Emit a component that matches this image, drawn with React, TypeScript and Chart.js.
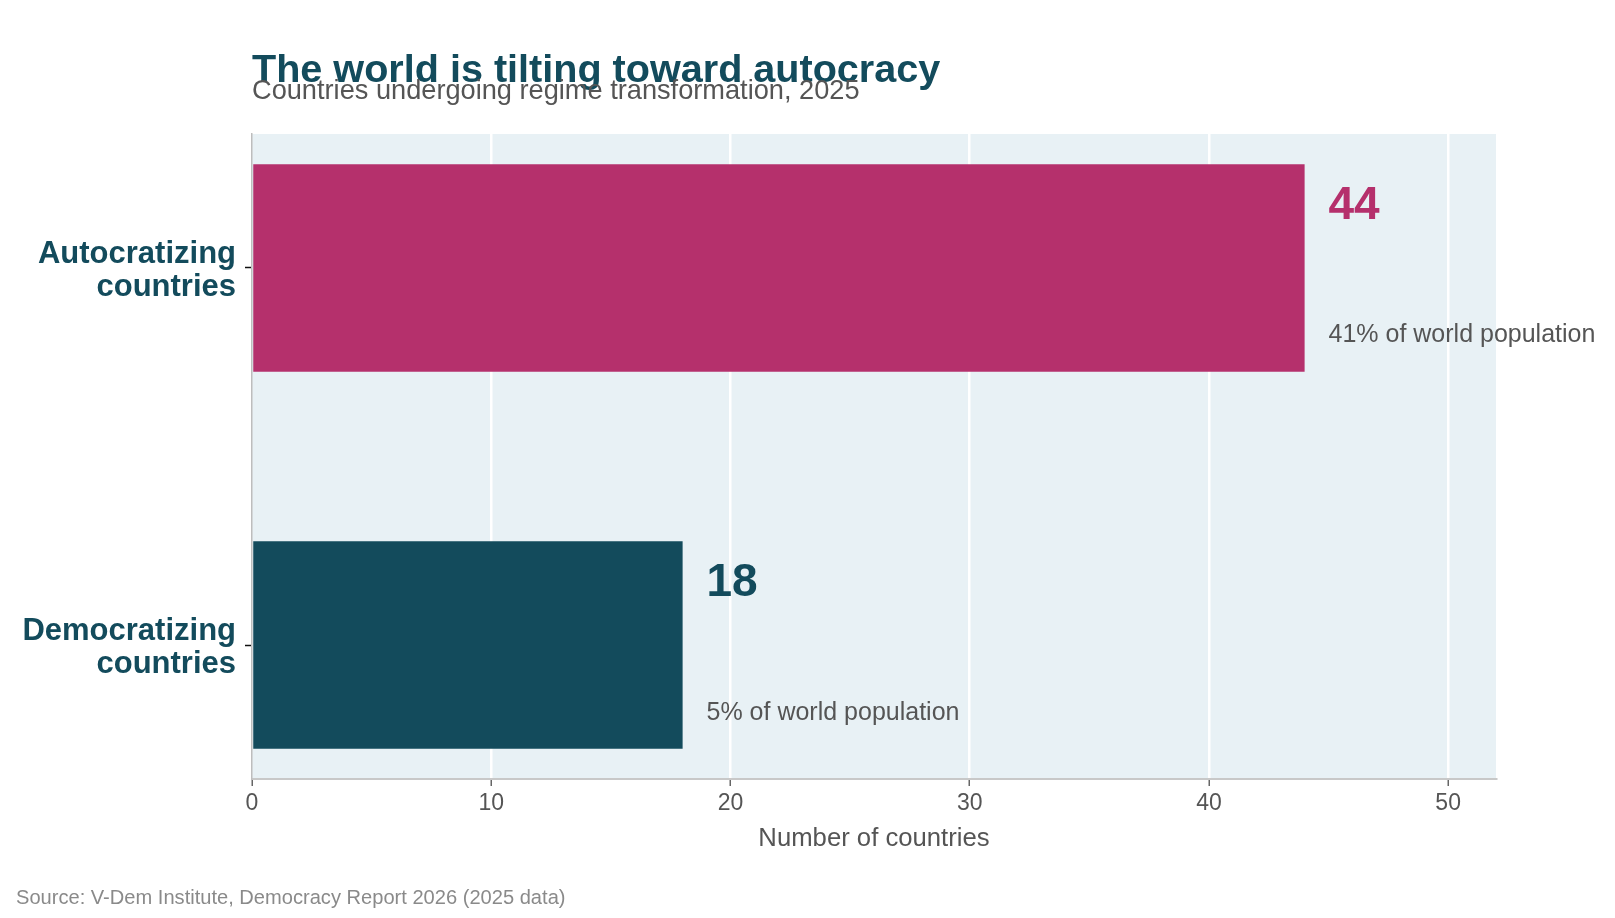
import React, { useEffect, useRef } from 'react';
import { Chart, registerables } from 'chart.js';

Chart.register(...registerables);

// ---- Data ----
const categories: string[][] = [
  ['Autocratizing', 'countries'],
  ['Democratizing', 'countries'],
];
const counts: number[] = [44, 18];
const populationShares: string[] = ['41% of world population', '5% of world population'];
const barColors: string[] = ['#b5306c', '#134b5c'];
const xTickValues: number[] = [0, 10, 20, 30, 40, 50];
const titleText = 'The world is tilting toward autocracy';
const subtitleText = 'Countries undergoing regime transformation, 2025';
const sourceText = 'Source: V-Dem Institute, Democracy Report 2026 (2025 data)';
const xAxisTitle = 'Number of countries';

const FONT = '"Liberation Sans", Arial, Helvetica, sans-serif';
const TEAL = '#134b5c';

const decorPlugin = {
  id: 'decor',
  beforeDraw(chart: any) {
    const { ctx, chartArea: a } = chart;
    ctx.save();
    ctx.fillStyle = '#e8f1f5';
    ctx.fillRect(a.left, a.top, a.right - a.left, a.bottom - a.top);
    ctx.restore();
  },
  afterDatasetsDraw(chart: any) {
    const { ctx } = chart;
    const xs = chart.scales.x;
    const ys = chart.scales.y;
    ctx.save();
    ctx.textAlign = 'left';
    ctx.textBaseline = 'middle';
    counts.forEach((v, i) => {
      const x = xs.getPixelForValue(v + 1);
      ctx.font = `bold 46px ${FONT}`;
      ctx.fillStyle = barColors[i];
      ctx.fillText(String(v), x, ys.getPixelForValue(i - 0.164));
      ctx.font = `25px ${FONT}`;
      ctx.fillStyle = '#555555';
      ctx.fillText(populationShares[i], x, ys.getPixelForValue(i + 0.179));
    });
    ctx.restore();
  },
  afterDraw(chart: any) {
    const { ctx, chartArea: a } = chart;
    ctx.save();
    ctx.textAlign = 'left';
    ctx.textBaseline = 'alphabetic';
    ctx.font = `bold 39.6px ${FONT}`;
    ctx.fillStyle = TEAL;
    ctx.fillText(titleText, a.left, 82);
    ctx.font = `27.2px ${FONT}`;
    ctx.fillStyle = '#555555';
    ctx.fillText(subtitleText, a.left, 99);
    ctx.font = `20.1px ${FONT}`;
    ctx.fillStyle = '#8a8a8a';
    ctx.fillText(sourceText, 16, 904);
    ctx.restore();
  },
};

export default function App() {
  const canvasRef = useRef<HTMLCanvasElement | null>(null);

  useEffect(() => {
    document.body.style.margin = '0';
    const canvas = canvasRef.current;
    if (!canvas) return;
    Chart.defaults.font.family = FONT;

    const chart = new Chart(canvas, {
      type: 'bar',
      data: {
        datasets: [
          {
            data: counts.map((v, i) => ({ x: v, y: i })),
            backgroundColor: barColors,
            borderWidth: 0,
            categoryPercentage: 1,
            barPercentage: 0.55,
          },
        ],
      },
      plugins: [decorPlugin],
      options: {
        indexAxis: 'y',
        animation: false,
        responsive: false,
        maintainAspectRatio: false,
        layout: { padding: { left: 0, right: 119, top: 134, bottom: 0 } },
        plugins: {
          legend: { display: false },
          tooltip: { enabled: false },
          title: { display: false },
        },
        scales: {
          x: {
            type: 'linear',
            position: 'bottom',
            min: 0,
            max: 52,
            offset: false,
            afterBuildTicks: (s: any) => {
              s.ticks = xTickValues.map((v) => ({ value: v }));
            },
            afterFit: (s: any) => {
              s.height = 139;
            },
            ticks: {
              font: { size: 23 },
              color: '#555555',
              padding: 4,
              callback: (v: any) => String(v),
            },
            grid: {
              offset: false,
              color: (c: any) => (c.tick && c.tick.value === 0 ? 'rgba(0,0,0,0)' : '#ffffff'),
              lineWidth: 2.5,
              drawTicks: true,
              tickLength: 7,
              tickColor: '#666666',
              tickWidth: 1.5,
            },
            border: { color: '#c8c8c8', width: 2 },
            title: {
              display: true,
              text: xAxisTitle,
              font: { size: 25.7 },
              color: '#555555',
              padding: { top: 0, bottom: 64 },
            },
          },
          y: {
            type: 'linear',
            reverse: true,
            min: -0.355,
            max: 1.355,
            offset: false,
            afterBuildTicks: (s: any) => {
              s.ticks = categories.map((_, i) => ({ value: i }));
            },
            afterFit: (s: any) => {
              s.width = 252;
            },
            ticks: {
              font: { size: 31, weight: 'bold', lineHeight: 1.065 },
              color: TEAL,
              padding: 9,
              labelOffset: 3,
              callback: (_v: any, idx: number) => categories[idx],
            },
            grid: {
              offset: false,
              drawOnChartArea: false,
              drawTicks: true,
              tickLength: 7,
              tickColor: '#111111',
              tickWidth: 1.5,
            },
            border: { color: '#bdbdbd', width: 1.5 },
          },
        },
      } as any,
    });

    return () => {
      chart.destroy();
    };
  }, []);

  return (
    <div style={{ width: 1615, height: 918, position: 'relative' }}>
      <canvas ref={canvasRef} width={1615} height={918} style={{ display: 'block' }} />
    </div>
  );
}
